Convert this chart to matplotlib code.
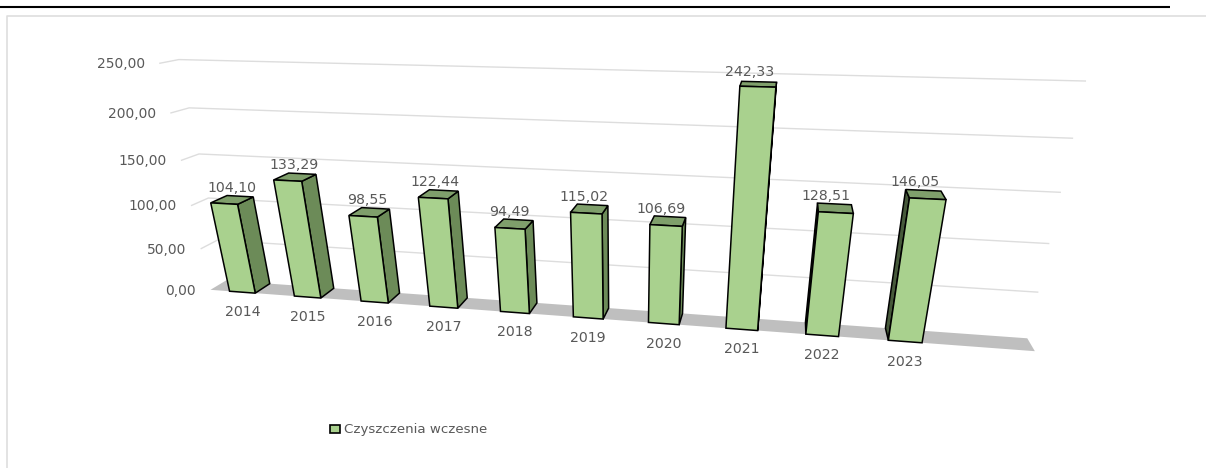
import numpy as np
import matplotlib
matplotlib.use("Agg")
import matplotlib.pyplot as plt
from matplotlib.patches import Polygon, Rectangle

years = ["2014", "2015", "2016", "2017", "2018", "2019", "2020", "2021", "2022", "2023"]
values = [104.10, 133.29, 98.55, 122.44, 94.49, 115.02, 106.69, 242.33, 128.51, 146.05]
gridValues = [0, 50, 100, 150, 200, 250]
seriesName = "Czyszczenia wczesne"

widthPx, heightPx = 1206, 468
slotCount = 11
barHalfWidth = 0.2

frontColor = "#A9D18E"
rightColor = "#6C8B58"
leftColor = "#46593A"
topColor = "#7F9F6B"
gridColor = "#DDDDDD"
floorColor = "#BFBFBF"
textColor = "#595959"

#Camera calibration: (slot, value, depth) seen at pixel (x, y) in the reference
cameraAnchors = [
    (0, 0, 0, 212, 289), (11, 0, 0, 1035, 352), (11, 0, 1, 1027, 337), (0, 0, 1, 222, 282),
    (0, 250, 1, 180, 60), (11, 250, 1, 1086, 81), (0, 200, 1, 190, 108), (11, 200, 1, 1073, 138),
    (0, 150, 1, 201, 154), (11, 150, 1, 1061, 192), (11, 100, 1, 1048, 243), (11, 50, 1, 1037, 292),
    (0, 250, 0, 158, 63), (0, 200, 0, 170, 113), (0, 150, 0, 181, 160), (0, 100, 0, 191, 205), (0, 50, 0, 201, 248),
    (0.3, 0, 0, 231, 291), (0.3, 104.1, 0, 212, 203), (7.3, 0, 0, 727, 328), (7.3, 242.33, 0, 739, 86),
    (9.3, 0, 0, 889, 341), (9.3, 146.05, 0, 909, 198), (9.7, 0, 0, 922, 343), (9.7, 146.05, 0, 945, 201),
]


#Solve the projective camera matrix from the calibration anchors
def solveCamera(anchors):
    rows, targets = [], []
    for slot, value, depth, x, y in anchors:
        v = value / 100
        rows.append([slot, v, depth, 1, 0, 0, 0, 0, -x * slot, -x * v, -x * depth])
        targets.append(x)
        rows.append([0, 0, 0, 0, slot, v, depth, 1, -y * slot, -y * v, -y * depth])
        targets.append(y)
    solution = np.linalg.lstsq(np.array(rows, dtype=float), np.array(targets, dtype=float), rcond=None)[0]
    return np.append(solution, 1).reshape(3, 4)


camera = solveCamera(cameraAnchors)


#Project a world point to pixels
def project(slot, value, depth):
    px = camera @ np.array([slot, value / 100, depth, 1.0])
    return px[0] / px[2], px[1] / px[2]


#Face is visible when its projected outline winds the right way (y points down)
def isVisible(corners):
    xs, ys = np.array(corners).T
    return np.sum(xs * np.roll(ys, -1) - np.roll(xs, -1) * ys) < 0


#Draw the visible faces of one bar and return the top centre and front base centre
def drawBar(ax, index, value):
    left, right = index + 0.5 - barHalfWidth, index + 0.5 + barHalfWidth
    front = [project(left, 0, 0), project(right, 0, 0), project(right, value, 0), project(left, value, 0)]
    top = [project(left, value, 0), project(right, value, 0), project(right, value, 1), project(left, value, 1)]
    rightSide = [project(right, 0, 0), project(right, 0, 1), project(right, value, 1), project(right, value, 0)]
    leftSide = [project(left, 0, 1), project(left, 0, 0), project(left, value, 0), project(left, value, 1)]
    faces = [(rightSide, rightColor), (leftSide, leftColor), (top, topColor), (front, frontColor)]
    for corners, color in faces:
        if corners is front or isVisible(corners):
            ax.add_patch(Polygon(corners, closed=True, facecolor=color, edgecolor="black", linewidth=1.1, joinstyle="miter", zorder=3))
    return project(index + 0.5, value, 0.5), project(index + 0.5, 0, 0)


fig = plt.figure(figsize=(widthPx / 100, heightPx / 100), dpi=100)
ax = fig.add_axes([0, 0, 1, 1])
ax.set_xlim(0, widthPx)
ax.set_ylim(heightPx, 0)
ax.axis("off")

#Page rule and chart frame
ax.plot([0, 1170], [7, 7], color="black", linewidth=1.5, solid_capstyle="butt")
ax.plot([7, 7, widthPx], [heightPx, 16, 16], color="#DEDEDE", linewidth=1.2)

#Floor
ax.add_patch(Polygon([project(0, 0, 0), project(slotCount, 0, 0), project(slotCount, 0, 1), project(0, 0, 1)], closed=True, facecolor=floorColor, edgecolor="none", zorder=1))

#Gridlines on the back wall and the left wall, with the value axis labels
for gridValue in gridValues:
    frontLeft, backLeft, backRight = project(0, gridValue, 0), project(0, gridValue, 1), project(slotCount, gridValue, 1)
    if gridValue > 0:
        ax.plot([frontLeft[0], backLeft[0], backRight[0]], [frontLeft[1], backLeft[1], backRight[1]], color=gridColor, linewidth=1.0, zorder=2)
    label = f"{gridValue:.2f}".replace(".", ",")
    ax.text(frontLeft[0] - 15, frontLeft[1] + 1, label, ha="right", va="center", fontsize=10, color=textColor)

#Bars with value and year labels
for index, value in enumerate(values):
    topCentre, baseCentre = drawBar(ax, index, value)
    label = f"{value:.2f}".replace(".", ",")
    ax.text(topCentre[0] - 1.2 * index, topCentre[1] - 12, label, ha="center", va="center", fontsize=10.2, color=textColor, zorder=4)
    ax.text(baseCentre[0], baseCentre[1] + 20, years[index], ha="center", va="center", fontsize=10.2, color=textColor)

#Legend
ax.add_patch(Rectangle((329.5, 424.5), 10, 8, facecolor=frontColor, edgecolor="black", linewidth=1.2))
ax.text(344, 429, seriesName, ha="left", va="center", fontsize=9.6, color=textColor)

fig.savefig("out.png", dpi=100)
